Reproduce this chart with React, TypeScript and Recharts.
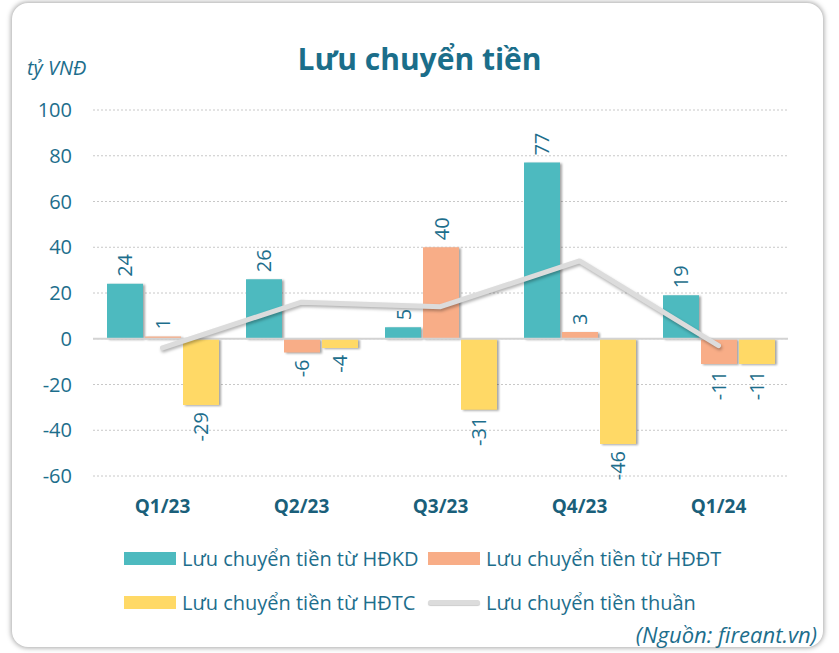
import React from 'react';
import { ComposedChart, Bar, Line, XAxis, YAxis, CartesianGrid, ReferenceLine, LabelList } from 'recharts';

const quarters = ['Q1/23', 'Q2/23', 'Q3/23', 'Q4/23', 'Q1/24'];
const hdkd = [24, 26, 5, 77, 19];
const hddt = [1, -6, 40, 3, -11];
const hdtc = [-29, -4, -31, -46, -11];
const net = [-4, 16, 14, 34, -3];
const yTicks = [-60, -40, -20, 0, 20, 40, 60, 80, 100];

const barSeries = [
  { key: 'hdkd', name: 'Lưu chuyển tiền từ HĐKD', color: '#4DBABF' },
  { key: 'hddt', name: 'Lưu chuyển tiền từ HĐĐT', color: '#F8AD87' },
  { key: 'hdtc', name: 'Lưu chuyển tiền từ HĐTC', color: '#FFD966' },
];
const lineSeries = { key: 'net', name: 'Lưu chuyển tiền thuần', color: '#DCDCDC' };

const data = quarters.map((q, i) => ({ q, hdkd: hdkd[i], hddt: hddt[i], hdtc: hdtc[i], net: net[i] }));

const FONT = '"Open Sans", sans-serif';
const TEAL_TEXT = '#1D6E8C';

// rotated value labels, above positive bars and below negative ones
const ValueLabel = (props: any) => {
  const { x, y, width, height, value } = props;
  if (value == null) return null;
  const cx = x + width / 2;
  const top = Math.min(y, y + height);
  const bottom = Math.max(y, y + height);
  const pos = value >= 0;
  const ly = pos ? top - 7 : bottom + 7;
  return (
    <text x={cx} y={ly} transform={`rotate(-90 ${cx} ${ly})`} textAnchor={pos ? 'start' : 'end'}
      dominantBaseline="central" fill={TEAL_TEXT} fontSize={20} fontFamily={FONT}>
      {value}
    </text>
  );
};

const legendRows = [
  [barSeries[0], barSeries[1]],
  [barSeries[2], lineSeries],
];

export default function App() {
  return (
    <div style={{ position: 'absolute', left: 0, top: 0, width: 839, height: 653, background: '#fff', overflow: 'hidden', fontFamily: FONT }}>
      <style>{`
        .recharts-bar-rectangle path { filter: drop-shadow(2px 1px 1px rgba(0,0,0,0.35)); }
        .net-line path { filter: drop-shadow(1px 2px 1.5px rgba(0,0,0,0.3)); }
      `}</style>
      <div style={{
        position: 'absolute', left: 12, top: 3, width: 811, height: 644,
        borderRadius: 16, boxShadow: '0 0 5px 1px rgba(0,0,0,0.35)', background: '#fff',
      }} />
      <div style={{ position: 'absolute', left: 0, top: 38, width: 839, textAlign: 'center', fontSize: 30, fontWeight: 700, color: '#1B6E8A' }}>
        Lưu chuyển tiền
      </div>
      <div style={{ position: 'absolute', left: 27, top: 54, fontSize: 20, fontStyle: 'italic', color: TEAL_TEXT }}>
        tỷ VNĐ
      </div>
      <div style={{ position: 'absolute', left: 0, top: 0 }}>
        <ComposedChart width={839} height={653} data={data}
          margin={{ top: 110, right: 51, bottom: 137, left: 33 }}
          barCategoryGap={14} barGap={2}>
          <CartesianGrid horizontal vertical={false} stroke="#C8C8C8" strokeDasharray="2 2" />
          <XAxis dataKey="q" axisLine={false} tickLine={false} height={40} tickMargin={18}
            tick={{ fill: '#1A5F7A', fontSize: 19, fontWeight: 700, fontFamily: FONT }} />
          <YAxis domain={[-60, 100]} ticks={yTicks} axisLine={false} tickLine={false} width={60} tickMargin={15}
            tick={{ fill: TEAL_TEXT, fontSize: 20, fontFamily: FONT }} />
          <ReferenceLine y={0} stroke="#D3D3D3" strokeWidth={2} />
          {barSeries.map(s => (
            <Bar key={s.key} dataKey={s.key} name={s.name} fill={s.color} isAnimationActive={false}>
              <LabelList dataKey={s.key} content={ValueLabel} />
            </Bar>
          ))}
          <Line className="net-line" type="linear" dataKey={lineSeries.key} name={lineSeries.name}
            stroke={lineSeries.color} strokeWidth={5} strokeLinecap="round" strokeLinejoin="round"
            dot={false} activeDot={false} isAnimationActive={false} />
        </ComposedChart>
      </div>
      {legendRows.map((row, ri) => (
        <div key={ri} style={{ position: 'absolute', top: 545 + ri * 44, left: 124, height: 26 }}>
          {row.map((s, ci) => (
            <div key={s.key} style={{ position: 'absolute', left: ci * 304, top: 0, display: 'flex', alignItems: 'center', height: 26, whiteSpace: 'nowrap' }}>
              {s.key === 'net'
                ? <span style={{ width: 52, height: 5, borderRadius: 3, background: s.color, boxShadow: '0 1px 1px rgba(0,0,0,0.2)' }} />
                : <span style={{ width: 52, height: 13, background: s.color }} />}
              <span style={{ marginLeft: 6, fontSize: 20, color: TEAL_TEXT }}>{s.name}</span>
            </div>
          ))}
        </div>
      ))}
      <div style={{ position: 'absolute', right: 22, top: 619, fontSize: 22, fontStyle: 'italic', color: TEAL_TEXT }}>
        (Nguồn: fireant.vn)
      </div>
    </div>
  );
}
